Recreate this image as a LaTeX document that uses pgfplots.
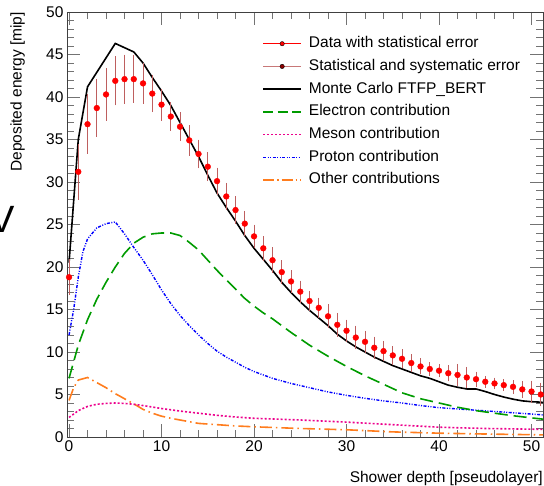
\documentclass[border=0pt]{standalone}
\usepackage{fontspec}
\setmainfont{Liberation Sans}
\usepackage{pgfplots}
\usepackage{pgfplotstable}
\pgfplotsset{compat=1.18}
\definecolor{errc}{RGB}{190,95,95}
\definecolor{darkred}{RGB}{140,0,0}
\definecolor{elecgreen}{RGB}{0,155,0}
\definecolor{othorange}{RGB}{255,125,30}
\definecolor{rosy}{RGB}{200,120,120}

\pgfplotstableread{
x y syst stat
0 18.8 1.8 0.3
1 31.2 3.0 0.3
2 36.8 3.2 0.3
3 38.7 3.1 0.3
4 40.3 2.8 0.3
5 41.9 2.6 0.3
6 42.1 2.6 0.3
7 42.1 2.5 0.3
8 41.6 2.1 0.3
9 40.4 1.9 0.3
10 39.1 1.6 0.3
11 37.7 1.4 0.3
12 36.5 1.4 0.3
13 34.9 1.5 0.3
14 33.3 1.4 0.3
15 31.8 1.4 0.3
16 30.1 1.3 0.3
17 28.3 1.3 0.3
18 26.7 1.3 0.3
19 25.1 1.2 0.3
20 23.6 1.1 0.3
21 22.2 1.15 0.3
22 20.8 1.2 0.3
23 19.4 1.1 0.3
24 18.3 1.05 0.3
25 17.1 1.0 0.3
26 16.0 0.9 0.3
27 15.2 0.9 0.3
28 14.2 1.1 0.3
29 13.2 1.1 0.3
30 12.5 1.0 0.3
31 11.7 1.1 0.3
32 11.2 1.0 0.3
33 10.5 1.0 0.3
34 10.1 0.9 0.3
35 9.6 0.8 0.3
36 9.2 0.8 0.3
37 8.7 0.75 0.3
38 8.3 0.65 0.3
39 8.0 0.5 0.3
40 7.8 0.45 0.3
41 7.5 0.65 0.3
42 7.3 1.0 0.3
43 7.0 0.95 0.3
44 6.8 0.6 0.3
45 6.5 0.4 0.3
46 6.3 0.4 0.3
47 6.1 0.4 0.3
48 5.9 0.5 0.3
49 5.6 0.7 0.3
50 5.35 1.0 0.3
51 5.0 1.1 0.3
}\datatab

\pgfplotstableread{
x y
0 20.5
1 35.0
2 41.2
3 42.9
4 44.6
5 46.3
6 45.8
7 45.3
8 44.0
9 42.3
10 40.7
11 39.0
12 37.0
13 35.0
14 33.0
15 30.8
16 28.7
17 27.0
18 25.4
19 23.7
20 22.2
21 20.9
22 19.6
23 18.2
24 17.0
25 15.9
26 14.9
27 14.0
28 13.1
29 12.1
30 11.3
31 10.6
32 10.0
33 9.4
34 8.9
35 8.4
36 8.0
37 7.6
38 7.2
39 6.9
40 6.5
41 6.1
42 5.85
43 5.65
44 5.65
45 5.35
46 5.0
47 4.7
48 4.45
49 4.25
50 4.15
51 4.1
51.24 4.05
}\mctab

\pgfplotstableread{
x y
0 6.9
1 10.8
2 13.8
3 16.2
4 18.2
5 20.0
6 21.6
7 22.8
8 23.5
9 23.9
10 24.0
11 24.0
12 23.7
13 22.9
14 22.0
15 20.8
16 19.6
17 18.5
18 17.4
19 16.3
20 15.4
21 14.6
22 13.9
24 12.3
26 10.8
28 9.5
30 8.3
32 7.2
34 6.2
36 5.2
38 4.5
40 4.0
42 3.5
44 3.1
46 2.8
48 2.5
50 2.25
51.24 2.1
}\electab

\pgfplotstableread{
x y
0 2.3
1 3.1
2 3.6
3 3.85
4 3.95
5 4.0
6 3.95
7 3.85
8 3.7
10 3.35
12 3.05
14 2.8
16 2.55
18 2.35
20 2.2
25 2.0
30 1.75
35 1.45
40 1.15
45 1.0
51.24 0.9
}\mesontab

\pgfplotstableread{
x y
0 12.0
0.5 15.0
1 18.8
1.5 21.8
2 23.3
3 24.6
4 25.1
5 25.3
5.5 24.6
6 23.9
7 22.3
8 20.8
9 19.1
10 17.3
11 15.7
12 14.3
13 13.1
14 12.0
15 11.0
16 10.1
17 9.4
18 8.8
19 8.2
20 7.7
21 7.3
22 6.9
24 6.3
26 5.8
28 5.3
30 4.9
32 4.55
34 4.25
36 4.0
38 3.7
40 3.45
42 3.3
44 3.15
46 3.0
48 2.85
50 2.7
51.24 2.6
}\protab

\pgfplotstableread{
x y
0 4.3
0.5 5.8
1 6.7
2 7.0
3 6.4
4 5.8
5 5.1
6 4.5
7 3.9
8 3.25
9 2.8
10 2.45
11 2.2
12 2.0
14 1.6
16 1.45
18 1.3
20 1.2
25 1.0
30 0.85
35 0.6
40 0.45
45 0.35
51.24 0.25
}\othtab

\begin{document}
\begin{tikzpicture}
\path[use as bounding box] (-67pt,-49pt) rectangle (477pt,437pt);
\node[anchor=base, inner sep=0pt, font=\fontsize{38}{40}\selectfont] at (-65pt,204pt) {V};
\begin{axis}[
  at={(0pt,0pt)}, anchor=south west, scale only axis,
  width=476pt, height=425pt,
  xmin=-0.22, xmax=51.24, ymin=0, ymax=50,
  xtick={0,10,...,50}, ytick={0,5,...,50},
  minor x tick num=4, minor y tick num=4,
  tick pos=both, tick align=inside,
  major tick length=13pt, minor tick length=7pt,
  tick style={black!55, line width=0.8pt},
  axis line style={black!75, line width=0.8pt},
  /pgf/number format/assume math mode=true,
  ticklabel style={font=\fontsize{15.5}{18}\selectfont},
  label style={font=\fontsize{15.5}{18}\selectfont},
  xlabel={Shower depth [pseudolayer]},
  ylabel={Deposited energy [mip]},
  xlabel style={at={(axis description cs:1,-0.08)}, anchor=north east, inner sep=0pt},
  ylabel style={at={(axis description cs:-0.0882,1)}, anchor=south east, inner sep=0pt},
  legend style={at={(axis description cs:0.41,0.947)}, anchor=north west,
    draw=none, fill=none, inner sep=0pt, row sep=4.7pt,
    font=\fontsize{15.5}{18}\selectfont,
    nodes={inner sep=2pt, text height=11pt, text depth=3pt},
    /tikz/every even column/.append style={column sep=0pt}},
  legend cell align=left,
  legend image code/.code={\draw[#1] (0pt,0pt) -- (38pt,0pt); \path (43pt,0pt);},
]
\addlegendimage{legend image code/.code={\draw[draw=red, line width=0.8pt] (0pt,0pt) -- (38pt,0pt); \fill[fill=red] (19pt,0pt) circle (2.2pt); \path (43pt,0pt);}}
\addlegendentry{Data with statistical error}
\addlegendimage{legend image code/.code={\draw[draw=rosy, line width=0.8pt] (0pt,0pt) -- (38pt,0pt); \fill[fill=darkred] (19pt,0pt) circle (2.2pt); \path (43pt,0pt);}}
\addlegendentry{Statistical and systematic error}
\addlegendimage{draw=black, line width=1.6pt}
\addlegendentry{Monte Carlo FTFP\_BERT}
\addlegendimage{draw=elecgreen, line width=1.6pt, dash pattern=on 10pt off 4.5pt}
\addlegendentry{Electron contribution}
\addlegendimage{draw=magenta, line width=1.6pt, dash pattern=on 2pt off 2pt}
\addlegendentry{Meson contribution}
\addlegendimage{draw=blue, line width=1.4pt, dash pattern=on 3pt off 1.5pt on 1pt off 1.5pt on 1pt off 1.5pt}
\addlegendentry{Proton contribution}
\addlegendimage{draw=othorange, line width=1.6pt, dash pattern=on 11pt off 3pt on 1.5pt off 3pt}
\addlegendentry{Other contributions}

\addplot[forget plot, color=othorange, line width=1.6pt, dash pattern=on 12pt off 4pt on 1.5pt off 4pt] table[x=x,y=y] {\othtab};
\addplot[forget plot, color=magenta, line width=1.6pt, dash pattern=on 2pt off 2pt] table[x=x,y=y] {\mesontab};
\addplot[forget plot, color=blue, line width=1.4pt, dash pattern=on 3pt off 1.5pt on 1pt off 1.5pt on 1pt off 1.5pt] table[x=x,y=y] {\protab};
\addplot[forget plot, color=elecgreen, line width=1.6pt, dash pattern=on 13pt off 6pt] table[x=x,y=y] {\electab};
\addplot[forget plot, black, line width=1.6pt] table[x=x,y=y] {\mctab};
\addplot[forget plot, only marks, mark=none,
  error bars/.cd, y dir=both, y explicit,
  error bar style={errc, line width=0.9pt},
  error mark options={errc, line width=0.9pt, mark size=2.5pt}]
  table[x=x, y=y, y error=syst] {\datatab};
\addplot[forget plot, only marks, mark=*, mark size=2.9pt, red,
  error bars/.cd, y dir=both, y explicit,
  error bar style={red, line width=0.8pt},
  error mark=none]
  table[x=x, y=y, y error=stat] {\datatab};
\end{axis}
\end{tikzpicture}
\end{document}
